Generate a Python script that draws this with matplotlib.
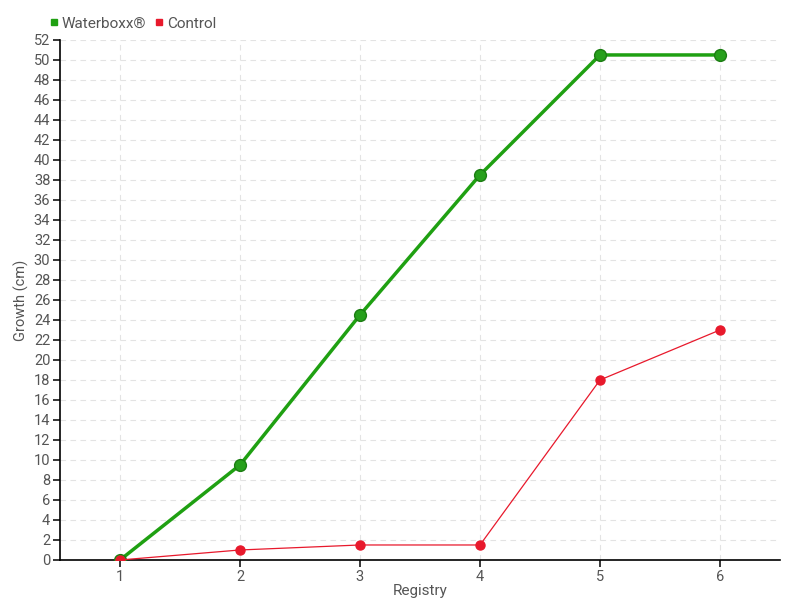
import matplotlib
matplotlib.use("Agg")
import matplotlib.pyplot as plt
from matplotlib.lines import Line2D

registry = [1, 2, 3, 4, 5, 6]
waterboxx = [0, 9.5, 24.5, 38.5, 50.5, 50.5]
control = [0, 1, 1.5, 1.5, 18, 23]
yticks = list(range(0, 53, 2))

plt.rcParams['font.family'] = ['Roboto', 'DejaVu Sans']
txt = '#555555'
fs = 11

fig = plt.figure(figsize=(8, 6), dpi=100)
ax = fig.add_axes([0.075, 0.0667, 0.9, 0.8667])

green = '#1fa012'
red = '#e8192c'
ax.plot(registry, waterboxx, color=green, lw=2.5, marker='o', ms=8.5,
        markerfacecolor='#27a01c', markeredgecolor='#1b7d12', markeredgewidth=1, zorder=3)
ax.plot(registry, control, color=red, lw=0.9, marker='o', ms=6.5,
        markerfacecolor=red, markeredgecolor=red, zorder=4)

ax.set_xlim(0.5, 6.5)
ax.set_ylim(0, 52)
ax.set_xticks(registry)
ax.set_yticks(yticks)
ax.grid(True, color='#e3e3e3', linestyle=(0, (5, 4)), lw=0.8)
ax.set_axisbelow(True)
for s in ['top', 'right']:
    ax.spines[s].set_visible(False)
for s in ['left', 'bottom']:
    ax.spines[s].set_linewidth(1.2)
ax.tick_params(axis='both', colors='black', labelcolor=txt, labelsize=10.5, length=5, width=1.1, pad=2)
ax.set_xlabel('Registry', color=txt, fontsize=fs, labelpad=0)
ax.set_ylabel('Growth (cm)', color=txt, fontsize=10.5)
ax.yaxis.set_label_coords(-0.043, 0.5)

handles = [Line2D([], [], marker='s', ls='none', color=green, ms=5),
           Line2D([], [], marker='s', ls='none', color=red, ms=5)]
fig.legend(handles, ['Waterboxx®', 'Control'], loc='upper left', bbox_to_anchor=(0.044, 0.995),
           ncol=2, frameon=False, fontsize=fs, labelcolor=txt, handlelength=0.6,
           handletextpad=0.2, columnspacing=0.6)

fig.savefig('out.png', dpi=100)
